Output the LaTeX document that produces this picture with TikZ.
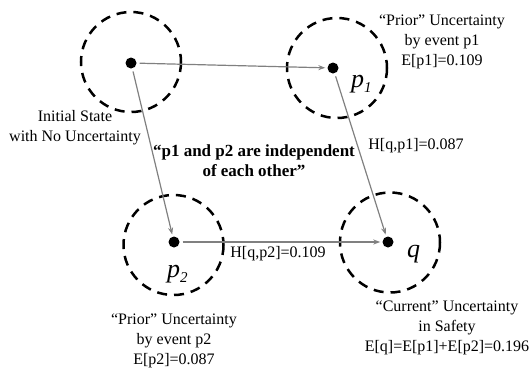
\documentclass[tikz,border=0pt]{standalone}
\usepackage{fontspec}
\setmainfont{Liberation Serif}
\usetikzlibrary{arrows.meta}
\tikzset{
  zone/.style={draw=black, line width=2.5pt, dash pattern=on 10pt off 7pt},
  pt/.style={circle, fill=black, inner sep=0pt, minimum size=11pt},
  link/.style={draw=gray, line width=1.2pt, -{Stealth[length=7pt,width=5pt]}, shorten <=3pt, shorten >=2pt},
  lbl/.style={font=\fontsize{16}{20}\selectfont, align=center, inner sep=0pt},
  boldlbl/.style={font=\fontsize{17}{20}\selectfont\bfseries, align=center, inner sep=0pt},
  var/.style={font=\fontsize{26}{26}\selectfont\itshape, inner sep=0pt, anchor=base west}
}
\newcommand{\subvar}[2]{#1\raisebox{-0.22em}{\fontsize{15}{15}\selectfont #2}}
\begin{document}
\begin{tikzpicture}[x=1pt,y=-1pt]
\useasboundingbox (0,0) rectangle (532,370);
% dashed zones
\draw[zone] (131,62) circle (50);
\draw[zone] (337,68) circle (50);
\draw[zone] (173.5,245) circle (50);
\draw[zone] (390,242.5) circle (50);
% points
\node[pt] (a) at (131,63) {};
\node[pt] (p1) at (333,68) {};
\node[pt] (p2) at (174,242) {};
\node[pt] (q) at (388,242) {};
% connectors
\draw[link] (a) -- (p1);
\draw[link] (a) -- (p2);
\draw[link] (p1) -- (q);
\draw[link] (p2) -- (q);
% variable labels
\node[var] (lp1) at (351,87) {\subvar{p}{1}};
\node[var] (lp2) at (167,277) {\subvar{p}{2}};
\node[var] (lq) at (407,257) {q};
% texts
\node[lbl] (tinit) at (75,128) {Initial State\\with No Uncertainty};
\node[lbl] (tp1) at (442,42) {“Prior” Uncertainty\\by event p1\\E[p1]=0.109};
\node[lbl] (tp2) at (174,341) {“Prior” Uncertainty\\by event p2\\E[p2]=0.087};
\node[lbl] (tq) at (447,328) {“Current” Uncertainty\\in Safety\\E[q]=E[p1]+E[p2]=0.196};
\node[lbl, anchor=base] (h1) at (416,149) {H[q,p1]=0.087};
\node[lbl, anchor=base] (h2) at (278,257.5) {H[q,p2]=0.109};
\node[boldlbl] (tind) at (254,161) {“p1 and p2 are independent\\of each other”};
\end{tikzpicture}
\end{document}
